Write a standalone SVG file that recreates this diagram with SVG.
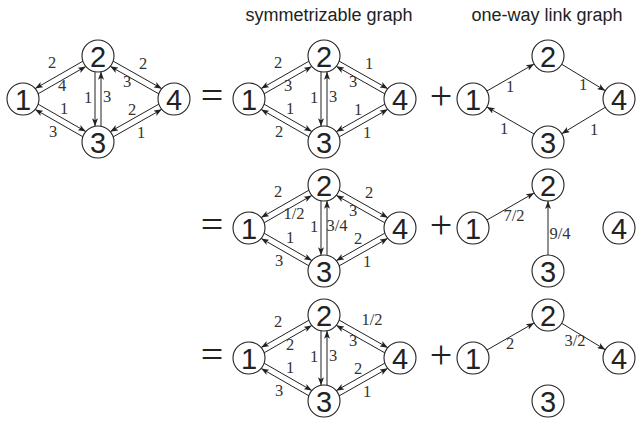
<svg xmlns="http://www.w3.org/2000/svg" width="640" height="425" viewBox="0 0 640 425">
<style>
.nc{fill:#fff;stroke:#222;stroke-width:1.1}
.nt{font-family:"Liberation Sans",Arial,sans-serif;font-size:29px;text-anchor:middle;fill:#222}
.w{font-family:"Liberation Serif","Times New Roman",serif;font-size:16.5px;text-anchor:middle;fill:#333}
.op{font-family:"Liberation Serif","Times New Roman",serif;font-size:40px;text-anchor:middle;fill:#222}
.ti{font-family:"Liberation Sans",Arial,sans-serif;font-size:18px;text-anchor:middle;fill:#222}
.e{stroke:#222;stroke-width:1;fill:none;marker-end:url(#ah)}
</style>
<defs>
<marker id="ah" viewBox="0 0 8 6" refX="8" refY="3" markerWidth="8" markerHeight="6" markerUnits="userSpaceOnUse" orient="auto"><path d="M0,0 L8,3 L0,6 L2,3 z" fill="#222"/></marker>
<g id="full-edges">
<line class="e" x1="59.89" y1="-37.79" x2="12.13" y2="-10.41"/>
<line class="e" x1="15.11" y1="-5.21" x2="62.87" y2="-32.59"/>
<line class="e" x1="15.11" y1="5.21" x2="62.87" y2="32.59"/>
<line class="e" x1="59.89" y1="37.79" x2="12.13" y2="10.41"/>
<line class="e" x1="72" y1="-27.3" x2="72" y2="27.3"/>
<line class="e" x1="78" y1="27.3" x2="78" y2="-27.3"/>
<line class="e" x1="90.14" y1="-37.88" x2="138.82" y2="-10.34"/>
<line class="e" x1="135.86" y1="-5.12" x2="87.18" y2="-32.66"/>
<line class="e" x1="135.86" y1="5.12" x2="87.18" y2="32.66"/>
<line class="e" x1="90.14" y1="37.88" x2="138.82" y2="10.34"/>
</g>
</defs>

<text class="ti" x="329" y="21">symmetrizable graph</text>
<text class="ti" x="547" y="21">one-way link graph</text>

<text class="op" x="212" y="109">=</text>
<text class="op" x="441" y="109">+</text>
<text class="op" x="212" y="238">=</text>
<text class="op" x="441" y="238">+</text>
<text class="op" x="212" y="368">=</text>
<text class="op" x="441" y="368">+</text>

<!-- Row 1 left graph -->
<g id="g1" transform="translate(23,99)">
<g id="g1-connectors">
<use href="#full-edges"/>
<text class="w" x="29" y="-31">2</text>
<text class="w" x="39" y="-8">4</text>
<text class="w" x="65" y="4">1</text>
<text class="w" x="84" y="3">3</text>
<text class="w" x="120" y="-30">2</text>
<text class="w" x="104" y="-12">3</text>
<text class="w" x="41" y="15">1</text>
<text class="w" x="30" y="38">3</text>
<text class="w" x="109" y="16">2</text>
<text class="w" x="118" y="39">1</text>
</g>
<g id="g1-n1"><circle class="nc" cx="0" cy="0" r="16"/><text class="nt" x="0" y="10.5">1</text></g>
<g id="g1-n2"><circle class="nc" cx="75" cy="-43" r="16"/><text class="nt" x="75" y="-32.5">2</text></g>
<g id="g1-n3"><circle class="nc" cx="75" cy="43" r="16"/><text class="nt" x="75" y="53.5">3</text></g>
<g id="g1-n4"><circle class="nc" cx="151" cy="0" r="16"/><text class="nt" x="151" y="10.5">4</text></g>
</g>

<!-- Row 1 symmetrizable -->
<g id="g2" transform="translate(249,99)">
<g id="g2-connectors">
<use href="#full-edges"/>
<text class="w" x="29" y="-31">2</text>
<text class="w" x="39" y="-8">3</text>
<text class="w" x="65" y="4">1</text>
<text class="w" x="84" y="3">3</text>
<text class="w" x="120" y="-30">1</text>
<text class="w" x="104" y="-12">3</text>
<text class="w" x="41" y="15">1</text>
<text class="w" x="30" y="38">2</text>
<text class="w" x="109" y="16">1</text>
<text class="w" x="118" y="39">1</text>
</g>
<g id="g2-n1"><circle class="nc" cx="0" cy="0" r="16"/><text class="nt" x="0" y="10.5">1</text></g>
<g id="g2-n2"><circle class="nc" cx="75" cy="-43" r="16"/><text class="nt" x="75" y="-32.5">2</text></g>
<g id="g2-n3"><circle class="nc" cx="75" cy="43" r="16"/><text class="nt" x="75" y="53.5">3</text></g>
<g id="g2-n4"><circle class="nc" cx="151" cy="0" r="16"/><text class="nt" x="151" y="10.5">4</text></g>
</g>

<!-- Row 1 one-way -->
<g id="g3" transform="translate(473,99)">
<g id="g3-connectors">
<line class="e" x1="13.88" y1="-7.96" x2="61.12" y2="-35.04"/>
<line class="e" x1="88.69" y1="-34.71" x2="132.31" y2="-8.29"/>
<line class="e" x1="132.31" y1="8.29" x2="88.69" y2="34.71"/>
<line class="e" x1="61.12" y1="35.04" x2="13.88" y2="7.96"/>
<text class="w" x="37" y="-7">1</text>
<text class="w" x="110" y="-9">1</text>
<text class="w" x="121" y="36">1</text>
<text class="w" x="31" y="35">1</text>
</g>
<g id="g3-n1"><circle class="nc" cx="0" cy="0" r="16"/><text class="nt" x="0" y="10.5">1</text></g>
<g id="g3-n2"><circle class="nc" cx="75" cy="-43" r="16"/><text class="nt" x="75" y="-32.5">2</text></g>
<g id="g3-n3"><circle class="nc" cx="75" cy="43" r="16"/><text class="nt" x="75" y="53.5">3</text></g>
<g id="g3-n4"><circle class="nc" cx="146" cy="0" r="16"/><text class="nt" x="146" y="10.5">4</text></g>
</g>

<!-- Row 2 symmetrizable -->
<g id="g4" transform="translate(249,228)">
<g id="g4-connectors">
<use href="#full-edges"/>
<text class="w" x="29" y="-31">2</text>
<text class="w" x="45" y="-9">1/2</text>
<text class="w" x="65" y="4">1</text>
<text class="w" x="88" y="3">3/4</text>
<text class="w" x="120" y="-30">2</text>
<text class="w" x="104" y="-12">3</text>
<text class="w" x="41" y="15">1</text>
<text class="w" x="30" y="38">3</text>
<text class="w" x="109" y="16">2</text>
<text class="w" x="118" y="39">1</text>
</g>
<g id="g4-n1"><circle class="nc" cx="0" cy="0" r="16"/><text class="nt" x="0" y="10.5">1</text></g>
<g id="g4-n2"><circle class="nc" cx="75" cy="-43" r="16"/><text class="nt" x="75" y="-32.5">2</text></g>
<g id="g4-n3"><circle class="nc" cx="75" cy="43" r="16"/><text class="nt" x="75" y="53.5">3</text></g>
<g id="g4-n4"><circle class="nc" cx="151" cy="0" r="16"/><text class="nt" x="151" y="10.5">4</text></g>
</g>

<!-- Row 2 one-way -->
<g id="g5" transform="translate(473,228)">
<g id="g5-connectors">
<line class="e" x1="13.88" y1="-7.96" x2="61.12" y2="-35.04"/>
<line class="e" x1="75" y1="27" x2="75" y2="-27"/>
<text class="w" x="41" y="-7">7/2</text>
<text class="w" x="87" y="11">9/4</text>
</g>
<g id="g5-n1"><circle class="nc" cx="0" cy="0" r="16"/><text class="nt" x="0" y="10.5">1</text></g>
<g id="g5-n2"><circle class="nc" cx="75" cy="-43" r="16"/><text class="nt" x="75" y="-32.5">2</text></g>
<g id="g5-n3"><circle class="nc" cx="75" cy="43" r="16"/><text class="nt" x="75" y="53.5">3</text></g>
<g id="g5-n4"><circle class="nc" cx="146" cy="0" r="16"/><text class="nt" x="146" y="10.5">4</text></g>
</g>

<!-- Row 3 symmetrizable -->
<g id="g6" transform="translate(249,358)">
<g id="g6-connectors">
<use href="#full-edges"/>
<text class="w" x="29" y="-31">2</text>
<text class="w" x="41" y="-8">2</text>
<text class="w" x="65" y="4">1</text>
<text class="w" x="84" y="3">3</text>
<text class="w" x="123" y="-33">1/2</text>
<text class="w" x="104" y="-12">3</text>
<text class="w" x="41" y="15">1</text>
<text class="w" x="30" y="38">3</text>
<text class="w" x="109" y="16">2</text>
<text class="w" x="118" y="39">1</text>
</g>
<g id="g6-n1"><circle class="nc" cx="0" cy="0" r="16"/><text class="nt" x="0" y="10.5">1</text></g>
<g id="g6-n2"><circle class="nc" cx="75" cy="-43" r="16"/><text class="nt" x="75" y="-32.5">2</text></g>
<g id="g6-n3"><circle class="nc" cx="75" cy="43" r="16"/><text class="nt" x="75" y="53.5">3</text></g>
<g id="g6-n4"><circle class="nc" cx="151" cy="0" r="16"/><text class="nt" x="151" y="10.5">4</text></g>
</g>

<!-- Row 3 one-way -->
<g id="g7" transform="translate(473,358)">
<g id="g7-connectors">
<line class="e" x1="13.88" y1="-7.96" x2="61.12" y2="-35.04"/>
<line class="e" x1="88.69" y1="-34.71" x2="132.31" y2="-8.29"/>
<text class="w" x="37" y="-9">2</text>
<text class="w" x="102" y="-12">3/2</text>
</g>
<g id="g7-n1"><circle class="nc" cx="0" cy="0" r="16"/><text class="nt" x="0" y="10.5">1</text></g>
<g id="g7-n2"><circle class="nc" cx="75" cy="-43" r="16"/><text class="nt" x="75" y="-32.5">2</text></g>
<g id="g7-n3"><circle class="nc" cx="75" cy="43" r="16"/><text class="nt" x="75" y="53.5">3</text></g>
<g id="g7-n4"><circle class="nc" cx="146" cy="0" r="16"/><text class="nt" x="146" y="10.5">4</text></g>
</g>
</svg>
